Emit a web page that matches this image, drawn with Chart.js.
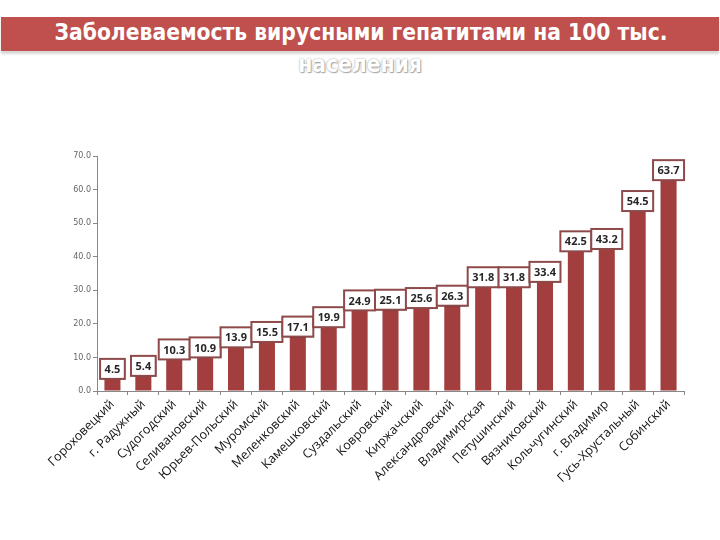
<!DOCTYPE html>
<html><head><meta charset="utf-8">
<script src="https://cdn.jsdelivr.net/npm/chart.js@4"></script>
<style>
html,body{margin:0;padding:0;background:#fff;}
#wrap{position:relative;width:720px;height:540px;}
#band{position:absolute;left:1px;top:17px;width:718px;height:34px;background:#c0504d;box-shadow:0 3px 2px #d8d8d8;}
#t1{position:absolute;left:0;top:19px;width:722px;height:34px;line-height:34px;text-align:center;color:#fff;font:bold 22.6px "DejaVu Sans Condensed","Liberation Sans",sans-serif;}
#t2{position:absolute;left:0;top:51px;width:720px;text-align:center;color:#fff;font:bold 22.6px "DejaVu Sans Condensed","Liberation Sans",sans-serif;text-shadow:0 0 2px #999,1px 1px 1px #aaa;}
canvas{position:absolute;left:0;top:0;}
</style></head>
<body><div id="wrap">
<div id="band"></div>
<div id="t1">Заболеваемость вирусными гепатитами на 100 тыс.</div>
<div id="t2">населения</div>
<canvas id="c" width="720" height="540"></canvas>
</div>
<script>
const categories = ["Гороховецкий","г. Радужный","Судогодский","Селивановский","Юрьев-Польский","Муромский","Меленковский","Камешковский","Суздальский","Ковровский","Киржачский","Александровский","Владимирская","Петушинский","Вязниковский","Кольчугинский","г. Владимир","Гусь-Хрустальный","Собинский"];
const values = [4.5,5.4,10.3,10.9,13.9,15.5,17.1,19.9,24.9,25.1,25.6,26.3,31.8,31.8,33.4,42.5,43.2,54.5,63.7];
const yTicks = [0,10,20,30,40,50,60,70];

const labelBoxes = {
  id:'labelBoxes',
  afterDatasetsDraw(chart){
    const ctx = chart.ctx;
    const meta = chart.getDatasetMeta(0);
    ctx.save();
    ctx.font = 'bold 11px "Open Sans","Liberation Sans",sans-serif';
    meta.data.forEach((bar,i)=>{
      const txt = values[i].toFixed(1);
      const tw = ctx.measureText(txt).width;
      const w = tw + 9, h = 20;
      const x = bar.x - w/2, y = bar.y - h + 3;
      ctx.shadowColor='rgba(0,0,0,0.25)'; ctx.shadowOffsetX=1; ctx.shadowOffsetY=1; ctx.shadowBlur=1;
      ctx.fillStyle='#ffffff'; ctx.fillRect(x,y,w,h);
      ctx.shadowColor='transparent';
      ctx.strokeStyle='#8e4a4a'; ctx.lineWidth=2; ctx.strokeRect(x,y,w,h);
      ctx.fillStyle='#262626'; ctx.textAlign='center'; ctx.textBaseline='middle';
      ctx.fillText(txt, bar.x, y+h/2+1);
    });
    ctx.restore();
  }
};

new Chart(document.getElementById('c'),{
  type:'bar',
  data:{labels:categories,datasets:[{data:values,backgroundColor:'#a23f3e',borderColor:'#8c3535',borderWidth:0,barPercentage:0.52,categoryPercentage:1}]},
  options:{
    responsive:false,animation:false,
    layout:{padding:{top:156,right:36,left:0,bottom:0}},
    plugins:{legend:{display:false},tooltip:{enabled:false},title:{display:false}},
    scales:{
      x:{
        grid:{display:true,drawOnChartArea:false,drawTicks:true,tickLength:4,color:'#888',offset:true},
        border:{display:true,color:'#888',width:1},
        ticks:{minRotation:45,maxRotation:45,color:'#111',font:{size:12.5,family:'"Open Sans","Liberation Sans",sans-serif'},padding:2,autoSkip:false},
        afterFit(s){s.height=149;}
      },
      y:{
        min:0,max:70,
        afterBuildTicks(s){s.ticks=yTicks.map(v=>({value:v}));},
        grid:{display:true,drawOnChartArea:false,drawTicks:true,tickLength:4,color:'#888'},
        border:{display:true,color:'#888',width:1},
        ticks:{color:'#666',font:{size:8,family:'"DejaVu Sans",sans-serif'},padding:2,callback:v=>v.toFixed(1)},
        afterFit(s){s.width=97;}
      }
    }
  },
  plugins:[labelBoxes]
});
</script>
</body></html>
